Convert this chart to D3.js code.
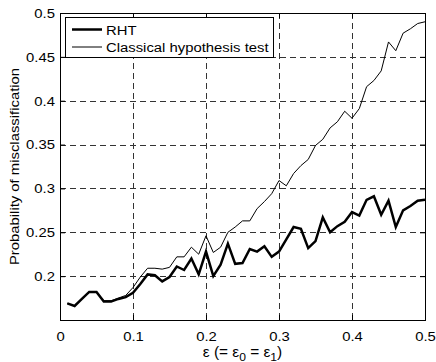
<!DOCTYPE html>
<html>
<head>
<meta charset="utf-8">
<script src="https://cdn.jsdelivr.net/npm/d3@7"></script>
<style>
  body { margin: 0; background: #fff; }
  text { font-family: Arial, "Liberation Sans", sans-serif; fill: #000; }
</style>
</head>
<body>
<script>
const epsilon = d3.range(1, 51).map(i => i / 100);

const rht = [
  0.169, 0.166, 0.174, 0.182, 0.182, 0.171, 0.171, 0.174, 0.176, 0.181,
  0.191, 0.202, 0.201, 0.194, 0.199, 0.211, 0.207, 0.220, 0.202, 0.228,
  0.200, 0.213, 0.237, 0.214, 0.215, 0.231, 0.228, 0.234, 0.222, 0.228,
  0.242, 0.256, 0.254, 0.232, 0.240, 0.267, 0.250, 0.257, 0.262, 0.273,
  0.269, 0.287, 0.291, 0.270, 0.286, 0.256, 0.275, 0.280, 0.286, 0.287
];

const classical = [
  0.169, 0.166, 0.174, 0.182, 0.182, 0.172, 0.172, 0.175, 0.178, 0.187,
  0.199, 0.209, 0.209, 0.208, 0.210, 0.222, 0.222, 0.233, 0.225, 0.246,
  0.227, 0.233, 0.250, 0.256, 0.263, 0.263, 0.277, 0.285, 0.294, 0.309,
  0.303, 0.317, 0.326, 0.333, 0.349, 0.356, 0.369, 0.376, 0.388, 0.380,
  0.391, 0.416, 0.423, 0.434, 0.467, 0.457, 0.477, 0.482, 0.488, 0.490
];

const xTicks = [0, 0.1, 0.2, 0.3, 0.4, 0.5];
const yTicks = [0.2, 0.25, 0.3, 0.35, 0.4, 0.45, 0.5];
const seriesNames = ['RHT', 'Classical hypothesis test'];

const width = 436, height = 362;
const margin = { top: 13, right: 11, bottom: 42, left: 60 };
const iw = width - margin.left - margin.right;
const ih = height - margin.top - margin.bottom;
const sx = 1.1; // reference text is a bit wider than Arial

const svg = d3.select('body').append('svg')
  .attr('width', width)
  .attr('height', height);

const g = svg.append('g')
  .attr('transform', `translate(${margin.left},${margin.top})`);

const x = d3.scaleLinear().domain([0, 0.5]).range([0, iw]);
const y = d3.scaleLinear().domain([0.15, 0.5]).range([ih, 0]);

// dashed grid
g.selectAll('.vgrid').data(xTicks.slice(1, -1)).join('line')
  .attr('x1', d => Math.round(x(d)) + 0.5).attr('x2', d => Math.round(x(d)) + 0.5)
  .attr('y1', 0).attr('y2', ih)
  .attr('stroke', '#333').attr('stroke-dasharray', '6,4');
g.selectAll('.hgrid').data(yTicks.slice(0, -1)).join('line')
  .attr('y1', d => Math.round(y(d)) + 0.5).attr('y2', d => Math.round(y(d)) + 0.5)
  .attr('x1', 0).attr('x2', iw)
  .attr('stroke', '#333').attr('stroke-dasharray', '6,4');

// lines
const line = d3.line().x((d, i) => x(epsilon[i])).y(d => y(d));
g.append('path').datum(classical)
  .attr('d', line).attr('fill', 'none').attr('stroke', '#000').attr('stroke-width', 1);
g.append('path').datum(rht)
  .attr('d', line).attr('fill', 'none').attr('stroke', '#000').attr('stroke-width', 2.5);

// axes (MATLAB style, ticks inward on all sides)
const tl = 5;
g.append('g').attr('transform', `translate(0,${ih})`)
  .call(d3.axisBottom(x).tickValues(xTicks).tickSize(-tl).tickPadding(tl + 6).tickFormat(d3.format('')))
  .call(a => a.select('.domain').remove())
  .call(a => a.selectAll('text').attr('transform', `scale(${sx},1)`));
g.append('g').call(d3.axisTop(x).tickValues(xTicks).tickSize(-tl).tickFormat(''))
  .call(a => a.select('.domain').remove());
g.append('g')
  .call(d3.axisLeft(y).tickValues(yTicks).tickSize(-tl).tickFormat(d3.format('')))
  .call(a => a.select('.domain').remove())
  .call(a => a.selectAll('text').attr('x', -5 / sx).attr('transform', `scale(${sx},1)`));
g.append('g').attr('transform', `translate(${iw},0)`)
  .call(d3.axisRight(y).tickValues(yTicks).tickSize(-tl).tickFormat(''))
  .call(a => a.select('.domain').remove());
g.selectAll('.tick text').style('font-size', '13.5px').attr('fill', '#000');
g.selectAll('.tick line').attr('stroke', '#000');

g.append('rect').attr('x', 0.5).attr('y', 0.5).attr('width', iw).attr('height', ih)
  .attr('fill', 'none').attr('stroke', '#000');

// legend
const lg = g.append('g').attr('transform', 'translate(5,4)');
lg.append('rect').attr('x', 0.5).attr('y', 0.5).attr('width', 208).attr('height', 40)
  .attr('fill', '#fff').attr('stroke', '#000');
seriesNames.forEach((name, i) => {
  const yy = 12.5 + i * 17.5;
  lg.append('line').attr('x1', 7).attr('x2', 37).attr('y1', yy).attr('y2', yy)
    .attr('stroke', '#000').attr('stroke-width', i === 0 ? 2.5 : 1);
  lg.append('text').attr('transform', `translate(41,${yy + 5}) scale(${sx},1)`)
    .style('font-size', '13.5px').text(name);
});

// axis labels
const xl = svg.append('text')
  .attr('transform', `translate(${margin.left + iw / 2},${height - 5}) scale(${sx},1)`)
  .attr('text-anchor', 'middle').style('font-size', '14px');
xl.append('tspan').text('ε (= ε');
xl.append('tspan').attr('dy', 4).style('font-size', '11px').text('0');
xl.append('tspan').attr('dy', -4).text(' = ε');
xl.append('tspan').attr('dy', 4).style('font-size', '11px').text('1');
xl.append('tspan').attr('dy', -4).text(')');

svg.append('text')
  .attr('transform', `translate(19,${margin.top + ih / 2}) rotate(-90) scale(${sx},1)`)
  .attr('text-anchor', 'middle').style('font-size', '13.5px')
  .text('Probability of misclassification');
</script>
</body>
</html>
